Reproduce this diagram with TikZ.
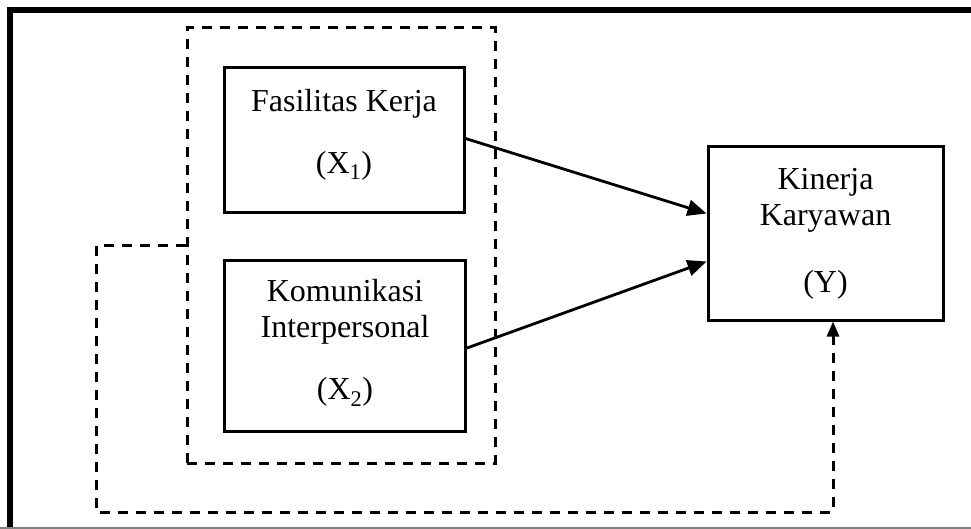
\documentclass[tikz,border=0pt]{standalone}
\usepackage{fontspec}
\setmainfont{Liberation Serif}
\usetikzlibrary{arrows.meta}
\begin{document}
\begin{tikzpicture}[x=1pt,y=-1pt,
    varbox/.style={draw,line width=3pt,inner sep=0pt,align=center,
        font=\fontsize{32}{36.5}\selectfont},
    dashline/.style={line width=3pt,dash pattern=on 10pt off 8pt},
    arrowline/.style={line width=2.8pt,-{Triangle[length=19pt,width=16pt]}}]
    \useasboundingbox (0,0) rectangle (971,529);
    \draw[line width=6pt] (8,10) -- (971,10);
    \draw[line width=6pt] (10,7) -- (10,529);
    \draw[line width=1.5pt,gray] (0,528) -- (971,528);
    \node[dashline,draw,minimum width=308pt,minimum height=435pt] (grp) at (341,245.5) {};
    \node[varbox,minimum width=240pt,minimum height=145pt,text depth=18pt] (x1) at (344,140.5)
        {Fasilitas Kerja\\[25.5pt](X\textsubscript{1})};
    \node[varbox,minimum width=241pt,minimum height=170pt,text depth=13pt] (x2) at (345,346)
        {Komunikasi\\Interpersonal\\[25.5pt](X\textsubscript{2})};
    \node[varbox,minimum width=235pt,minimum height=173pt] (y) at (825.5,233.5)
        {Kinerja\\Karyawan\\[30pt](Y)};
    \draw[arrowline] ([yshift=2pt]x1.east) -- ([yshift=20pt]y.west);
    \draw[arrowline] ([yshift=-2pt]x2.east) -- ([yshift=-28pt]y.west);
    \draw[dashline,-{Triangle[length=15pt,width=12pt]}] (grp.west) -| (96,512) -| ([xshift=7.5pt]y.south);
\end{tikzpicture}
\end{document}
